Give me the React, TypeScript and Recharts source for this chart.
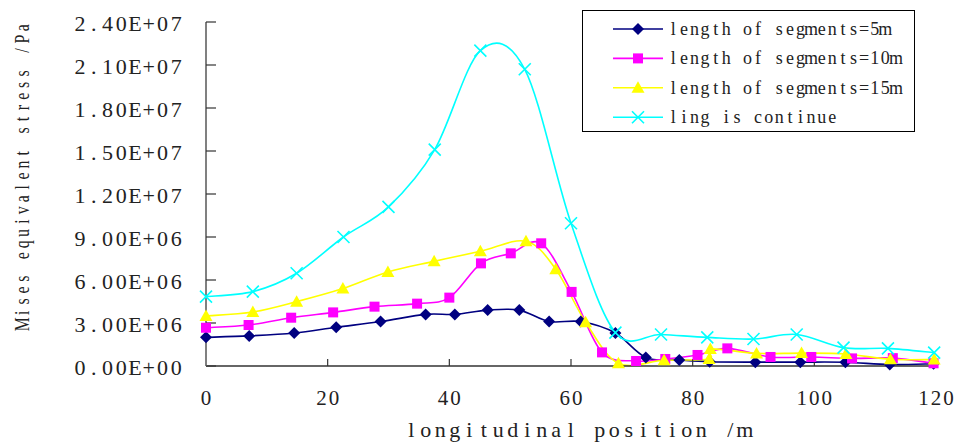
import React from "react";
import { LineChart, Line, XAxis, YAxis, Legend } from "recharts";

// ---------------------------------------------------------------------------
// Data (positions in m, stresses in Pa)
// ---------------------------------------------------------------------------

const xTicks = [0, 20, 40, 60, 80, 100, 120];
const yTicks = [0, 3e6, 6e6, 9e6, 12e6, 15e6, 18e6, 21e6, 24e6];

const seg5Pos = [0, 7.1, 14.5, 21.4, 28.7, 36.1, 40.9, 46.3, 51.5, 56.4, 61.6, 67.3, 72.3, 77.8, 82.8, 90.3, 97.7, 105.1, 112.4, 119.6];
const seg5Val = [2.0e6, 2.1e6, 2.3e6, 2.7e6, 3.1e6, 3.6e6, 3.6e6, 3.9e6, 3.9e6, 3.1e6, 3.1e6, 2.3e6, 0.6e6, 0.42e6, 0.3e6, 0.27e6, 0.27e6, 0.26e6, 0.1e6, 0.15e6];

const seg10Pos = [0, 7.0, 14.0, 20.9, 27.7, 34.7, 40.0, 45.2, 50.1, 55.1, 60.1, 65.1, 70.7, 75.5, 80.8, 85.7, 92.8, 99.5, 106.2, 112.9, 119.6];
const seg10Val = [2.67e6, 2.86e6, 3.37e6, 3.74e6, 4.14e6, 4.35e6, 4.77e6, 7.16e6, 7.86e6, 8.56e6, 5.17e6, 0.95e6, 0.35e6, 0.49e6, 0.77e6, 1.23e6, 0.63e6, 0.63e6, 0.53e6, 0.55e6, 0.19e6];

const seg15Pos = [0, 7.7, 14.9, 22.5, 29.9, 37.5, 45.1, 52.6, 57.5, 62.4, 67.8, 75.3, 82.7, 82.9, 90.5, 97.9, 105.2, 112.5, 119.7];
const seg15Val = [3.49e6, 3.77e6, 4.49e6, 5.4e6, 6.56e6, 7.3e6, 8.0e6, 8.7e6, 6.75e6, 3.06e6, 0.19e6, 0.4e6, 0.49e6, 1.19e6, 0.88e6, 0.9e6, 0.84e6, 0.47e6, 0.45e6];

const contPos = [0, 7.7, 14.9, 22.6, 30.0, 37.6, 45.1, 52.4, 60.0, 67.3, 74.8, 82.4, 90.0, 97.1, 104.8, 112.1, 119.7];
const contVal = [4.84e6, 5.19e6, 6.47e6, 9.0e6, 11.1e6, 15.1e6, 22.0e6, 20.7e6, 9.96e6, 2.33e6, 2.2e6, 2.0e6, 1.88e6, 2.2e6, 1.28e6, 1.23e6, 0.93e6];

const zip = (xs: number[], ys: number[]) => xs.map((x, i) => ({ x, y: ys[i] }));

// ---------------------------------------------------------------------------
// Helpers
// ---------------------------------------------------------------------------

const SERIF = "'Liberation Serif', 'DejaVu Serif', serif";
const TEXT = "#222";

const sci = (v: number) => {
  const [m, e] = v.toExponential(2).split("e");
  const n = parseInt(e, 10);
  return `${m}E${n < 0 ? "-" : "+"}${String(Math.abs(n)).padStart(2, "0")}`;
};

// fixed-pitch serif text (one glyph per cell), like the SimSun original
function MonoText({
  x,
  y,
  text,
  adv,
  size,
  anchor = "start",
  rotate = 0,
  squeeze = 1,
}: {
  x: number;
  y: number;
  text: string;
  adv: number;
  size: number;
  anchor?: "start" | "middle" | "end";
  rotate?: number;
  squeeze?: number;
}) {
  const chars = Array.from(text);
  const total = chars.length * adv;
  const start = anchor === "start" ? 0 : anchor === "middle" ? -total / 2 : -total;
  const transform =
    rotate || squeeze !== 1
      ? `translate(${x} ${y}) rotate(${rotate}) scale(${squeeze} 1) translate(${-x} ${-y})`
      : undefined;
  return (
    <text
      fontFamily={SERIF}
      fontSize={size}
      fill={TEXT}
      textAnchor="middle"
      dominantBaseline="central"
      transform={transform}
    >
      {chars.map((c, i) =>
        c === " " ? null : (
          <tspan key={i} x={x + (start + (i + 0.5) * adv) / squeeze} y={y}>
            {c}
          </tspan>
        ),
      )}
    </text>
  );
}

// Excel-like smoothed line (Catmull-Rom, control points at 1/6)
const excelSmooth = (context: any) => {
  let xs: number[] = [];
  let ys: number[] = [];
  return {
    areaStart() {},
    areaEnd() {},
    lineStart() {
      xs = [];
      ys = [];
    },
    point(x: number, y: number) {
      xs.push(+x);
      ys.push(+y);
    },
    lineEnd() {
      const n = xs.length;
      if (!n) return;
      context.moveTo(xs[0], ys[0]);
      for (let i = 0; i < n - 1; i++) {
        const i0 = Math.max(i - 1, 0);
        const i3 = Math.min(i + 2, n - 1);
        const c1x = xs[i] + (xs[i + 1] - xs[i0]) / 6;
        const c1y = ys[i] + (ys[i + 1] - ys[i0]) / 6;
        const c2x = xs[i + 1] - (xs[i3] - xs[i]) / 6;
        const c2y = ys[i + 1] - (ys[i3] - ys[i]) / 6;
        context.bezierCurveTo(c1x, c1y, c2x, c2y, xs[i + 1], ys[i + 1]);
      }
    },
  };
};

// ---------------------------------------------------------------------------
// Markers
// ---------------------------------------------------------------------------

const Diamond = ({ cx, cy }: { cx: number; cy: number }) => (
  <polygon points={`${cx},${cy - 6} ${cx + 6},${cy} ${cx},${cy + 6} ${cx - 6},${cy}`} fill="#000080" />
);
const Square = ({ cx, cy }: { cx: number; cy: number }) => (
  <rect x={cx - 5} y={cy - 5} width={10} height={10} fill="#ff00ff" />
);
const Triangle = ({ cx, cy }: { cx: number; cy: number }) => (
  <polygon points={`${cx},${cy - 6.5} ${cx + 6.5},${cy + 5} ${cx - 6.5},${cy + 5}`} fill="#ffff00" />
);
const Cross = ({ cx, cy }: { cx: number; cy: number }) => (
  <path d={`M${cx - 6},${cy - 6}L${cx + 6},${cy + 6}M${cx + 6},${cy - 6}L${cx - 6},${cy + 6}`} stroke="#00ffff" strokeWidth={1.6} fill="none" />
);

const series = [
  { name: "length of segments=5m", color: "#000080", data: zip(seg5Pos, seg5Val), Marker: Diamond },
  { name: "length of segments=10m", color: "#ff00ff", data: zip(seg10Pos, seg10Val), Marker: Square },
  { name: "length of segments=15m", color: "#ffff00", data: zip(seg15Pos, seg15Val), Marker: Triangle },
  { name: "ling is continue", color: "#00ffff", data: zip(contPos, contVal), Marker: Cross },
];

// ---------------------------------------------------------------------------
// Legend box
// ---------------------------------------------------------------------------

function LegendBox() {
  return (
    <div style={{ width: 331, height: 120, border: "1.5px solid #000", background: "#fff" }}>
      <svg width={331} height={120}>
        {series.map((s, i) => {
          const y = 18 + i * 29.4;
          return (
            <g key={s.name}>
              <line x1={30} x2={80} y1={y} y2={y} stroke={s.color} strokeWidth={1.6} />
              <s.Marker cx={55} cy={y} />
              <MonoText x={85} y={y} text={s.name} adv={10.6} size={18} />
            </g>
          );
        })}
      </svg>
    </div>
  );
}

const YTitle = () => (
  <MonoText x={21} y={176} text="Mises equivalent stress /Pa" adv={11.4} size={22} anchor="middle" rotate={-90} squeeze={0.72} />
);

const XTitle = () => <MonoText x={578} y={429} text="longitudinal position /m" adv={14.5} size={22} anchor="middle" />;

// ---------------------------------------------------------------------------
// Chart
// ---------------------------------------------------------------------------

export default function App() {
  return (
    <div style={{ position: "absolute", left: 0, top: 0, background: "#fff" }}>
      <LineChart width={958} height={442} margin={{ top: 22, right: 22, bottom: 0, left: 0 }}>
        <XAxis
          type="number"
          dataKey="x"
          domain={[0, 120]}
          ticks={xTicks}
          interval={0}
          height={76}
          axisLine={{ stroke: "#333", strokeWidth: 1.5 }}
          tickLine={{ stroke: "#333", strokeWidth: 1.2 }}
          tickSize={-7}
          tickMargin={30}
          tick={(p: any) => <MonoText x={p.x} y={p.y + 8.5} text={String(p.payload.value)} adv={12.5} size={21} anchor="middle" />}
          label={{ content: <XTitle /> }}
        />
        <YAxis
          type="number"
          domain={[0, 24e6]}
          ticks={yTicks}
          interval={0}
          width={206}
          axisLine={{ stroke: "#808080", strokeWidth: 2 }}
          tickLine={{ stroke: "#333", strokeWidth: 1.2 }}
          tickSize={-10}
          tickMargin={33}
          tick={(p: any) => <MonoText x={p.x} y={p.y + 1} text={sci(p.payload.value)} adv={13.75} size={22} anchor="end" />}
          label={{ content: <YTitle /> }}
        />
        <Legend
          layout="horizontal"
          verticalAlign="middle"
          align="center"
          content={() => <LegendBox />}
          wrapperStyle={{ left: 582, top: 10, width: 334, height: 123 }}
        />
        {series.map((s) => (
          <Line
            key={s.name}
            data={s.data}
            dataKey="y"
            name={s.name}
            type={excelSmooth as any}
            stroke={s.color}
            strokeWidth={1.6}
            dot={(p: any) => <s.Marker key={`${s.name}-${p.index}`} cx={p.cx} cy={p.cy} />}
            activeDot={false}
            isAnimationActive={false}
          />
        ))}
      </LineChart>
    </div>
  );
}
